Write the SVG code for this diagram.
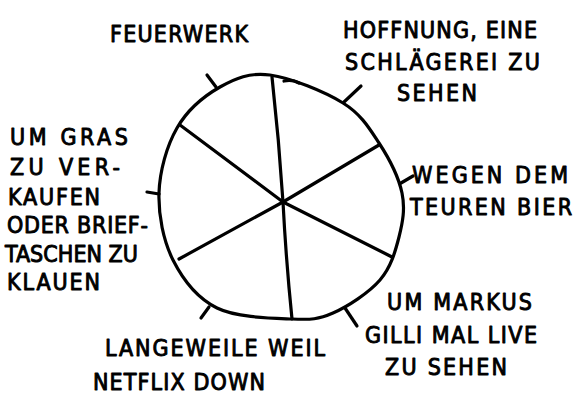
<svg xmlns="http://www.w3.org/2000/svg" width="582" height="411" viewBox="0 0 582 411">
<style>
.ln{fill:none;stroke:#000;stroke-width:3.2;stroke-linecap:round;stroke-linejoin:round}
.t{font-family:"DejaVu Sans Condensed","DejaVu Sans","Liberation Sans",sans-serif;font-stretch:condensed;font-size:23px;fill:#000;stroke:#000;stroke-width:0.9;stroke-linejoin:round}
</style>
<rect width="582" height="411" fill="#fff"/>
<g id="pie">
<path class="ln" d="M270,75 C290.5,77.7 324.8,91.7 343,103 C361.2,114.3 369.2,128 379,143 C388.8,158 398.7,177.3 402,193 C405.3,208.7 402.7,222.5 399,237 C395.3,251.5 391,267.3 380,280 C369,292.7 347.7,306.5 333,313 C318.3,319.5 311.3,319.8 292,319 C272.7,318.2 236.8,317.8 217,308 C197.2,298.2 182.7,279.2 173,260 C163.3,240.8 158.3,215 159,193 C159.7,171 166.8,145.7 177,128 C187.2,110.3 204.5,95.8 220,87 C235.5,78.2 249.5,72.3 270,75 Z"/>
<path class="ln" d="M284,81 Q292,79 299,83"/>
</g>
<g id="connectors">
<path class="ln" d="M272,77 Q279,140 283,202"/>
<path class="ln" d="M379,145 L283,202"/>
<path class="ln" d="M392,257 L283,202"/>
<path class="ln" d="M292,319 Q286,260 283,202"/>
<path class="ln" d="M179,259 L283,202"/>
<path class="ln" d="M180,125 L283,202"/>
<path class="ln" d="M207,75 L216,87"/>
<path class="ln" d="M344,102 L361,86"/>
<path class="ln" d="M401,183 L413,176"/>
<path class="ln" d="M147,192 L159,194"/>
<path class="ln" d="M201,318 L209,307"/>
<path class="ln" d="M345,308 L357,326"/>
</g>
<g id="label-feuerwerk">
<text class="t" x="110" y="42" textLength="138">FEUERWERK</text>
</g>
<g id="label-hoffnung">
<text class="t" x="343" y="38" textLength="194">HOFFNUNG, EINE</text>
<text class="t" x="345" y="70" textLength="195">SCHLÄGEREI ZU</text>
<text class="t" x="397" y="101" textLength="80">SEHEN</text>
</g>
<g id="label-bier">
<text class="t" x="412" y="183" textLength="156">WEGEN DEM</text>
<text class="t" x="410" y="215" textLength="162">TEUREN BIER</text>
</g>
<g id="label-gilli">
<text class="t" x="387" y="310" textLength="145">UM MARKUS</text>
<text class="t" x="365" y="343" textLength="172">GILLI MAL LIVE</text>
<text class="t" x="385" y="375" textLength="122">ZU SEHEN</text>
</g>
<g id="label-langeweile">
<text class="t" x="105" y="356" textLength="220">LANGEWEILE WEIL</text>
<text class="t" x="93" y="390" textLength="172">NETFLIX DOWN</text>
</g>
<g id="label-gras">
<text class="t" x="10" y="145" textLength="118">UM GRAS</text>
<text class="t" x="10" y="175" textLength="110">ZU VER-</text>
<text class="t" x="8" y="205" textLength="92">KAUFEN</text>
<text class="t" x="7" y="233" textLength="141">ODER BRIEF-</text>
<text class="t" x="5" y="262" textLength="133">TASCHEN ZU</text>
<text class="t" x="7" y="290" textLength="93">KLAUEN</text>
</g>
</svg>
